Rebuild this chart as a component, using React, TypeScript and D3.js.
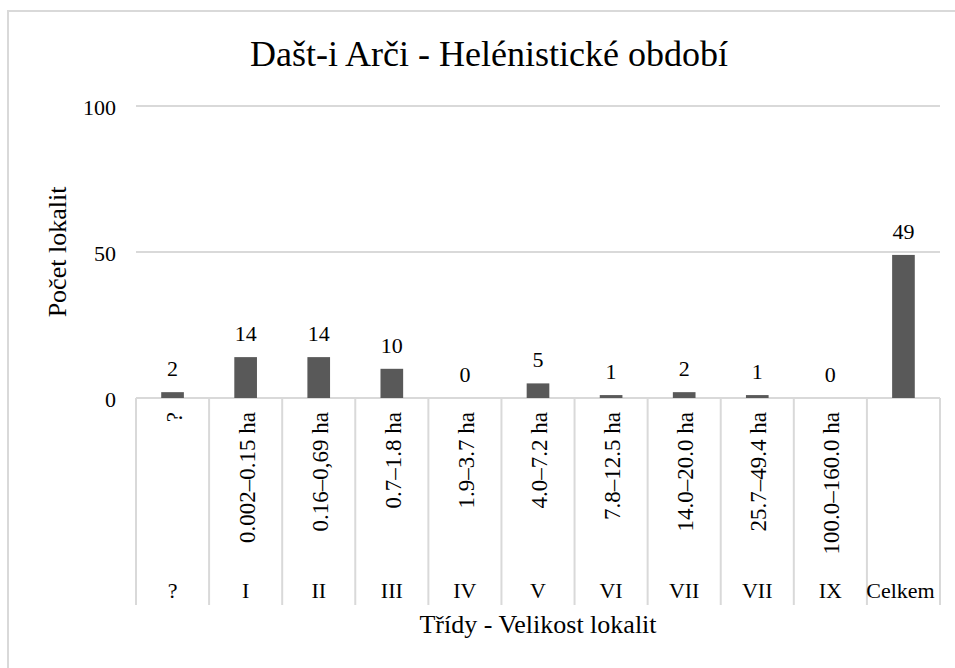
import React, { useEffect, useRef } from "react";
import * as d3 from "d3";

// classes (bottom level of the category axis) and size ranges (top level)
const classes = ["?", "I", "II", "III", "IV", "V", "VI", "VII", "VII", "IX", "Celkem"];
const sizeRanges = [
  "?",
  "0.002–0.15 ha",
  "0.16–0,69 ha",
  "0.7–1.8 ha",
  "1.9–3.7 ha",
  "4.0–7.2 ha",
  "7.8–12.5 ha",
  "14.0–20.0 ha",
  "25.7–49.4 ha",
  "100.0–160.0 ha",
  "",
];
const siteCounts = [2, 14, 14, 10, 0, 5, 1, 2, 1, 0, 49];
const yTicks = [0, 50, 100];

const W = 955;
const H = 668;
const FONT = "Liberation Serif, Tinos, Times New Roman, Nimbus Roman, DejaVu Serif, serif";

const App = () => {
  const svgRef = useRef<SVGSVGElement | null>(null);

  useEffect(() => {
    const svg = d3.select(svgRef.current);
    svg.selectAll("*").remove();

    const left = 136;
    const right = 940;
    const top = 106;
    const bottom = 398;
    const grid = "#d9d9d9";

    // outer chart border (right side is cut off in the picture)
    svg
      .append("rect")
      .attr("x", 8)
      .attr("y", 11)
      .attr("width", 980)
      .attr("height", 700)
      .attr("fill", "#fff")
      .attr("stroke", grid)
      .attr("stroke-width", 2);

    const x = d3
      .scaleBand<number>()
      .domain(d3.range(classes.length))
      .range([left, right])
      .padding(0);

    const y = d3.scaleLinear().domain([0, 100]).range([bottom, top]);

    // title
    svg
      .append("text")
      .attr("x", 489)
      .attr("y", 66)
      .attr("text-anchor", "middle")
      .attr("font-family", FONT)
      .attr("font-size", 36)
      .attr("fill", "#000")
      .text("Dašt-i Arči - Helénistické období");

    // gridlines + y tick labels
    svg
      .selectAll("line.grid")
      .data(yTicks)
      .enter()
      .append("line")
      .attr("class", "grid")
      .attr("x1", left)
      .attr("x2", right)
      .attr("y1", (d) => y(d))
      .attr("y2", (d) => y(d))
      .attr("stroke", grid)
      .attr("stroke-width", 2);

    svg
      .selectAll("text.ytick")
      .data(yTicks)
      .enter()
      .append("text")
      .attr("class", "ytick")
      .attr("x", 116)
      .attr("y", (d) => y(d) + 1)
      .attr("dy", "0.35em")
      .attr("text-anchor", "end")
      .attr("font-family", FONT)
      .attr("font-size", 22)
      .text((d) => d);

    // category separators
    const edges = d3.range(classes.length + 1).map((i) => left + i * x.bandwidth());
    svg
      .selectAll("line.sep")
      .data(edges)
      .enter()
      .append("line")
      .attr("class", "sep")
      .attr("x1", (d) => d)
      .attr("x2", (d) => d)
      .attr("y1", bottom)
      .attr("y2", 605)
      .attr("stroke", grid)
      .attr("stroke-width", 2);

    // bars
    const barW = x.bandwidth() * 0.31;
    const cx = (i: number) => (x(i) as number) + x.bandwidth() / 2;

    svg
      .selectAll("rect.bar")
      .data(siteCounts)
      .enter()
      .append("rect")
      .attr("class", "bar")
      .attr("x", (d, i) => cx(i) - barW / 2)
      .attr("y", (d) => y(d))
      .attr("width", barW)
      .attr("height", (d) => bottom - y(d))
      .attr("fill", "#595959");

    svg
      .selectAll("text.val")
      .data(siteCounts)
      .enter()
      .append("text")
      .attr("class", "val")
      .attr("x", (d, i) => cx(i))
      .attr("y", (d) => y(d) - 16)
      .attr("text-anchor", "middle")
      .attr("font-family", FONT)
      .attr("font-size", 22)
      .text((d) => d);

    // size range labels (rotated)
    svg
      .selectAll("text.range")
      .data(sizeRanges)
      .enter()
      .append("text")
      .attr("class", "range")
      .attr("transform", (d, i) => `translate(${cx(i) + 1}, 412) rotate(-90)`)
      .attr("dy", "0.35em")
      .attr("text-anchor", "end")
      .attr("font-family", FONT)
      .attr("font-size", 23)
      .text((d) => d);

    // class labels
    svg
      .selectAll("text.cls")
      .data(classes)
      .enter()
      .append("text")
      .attr("class", "cls")
      .attr("x", (d, i) => cx(i) - (i === classes.length - 1 ? 3 : 0))
      .attr("y", 598)
      .attr("text-anchor", "middle")
      .attr("font-family", FONT)
      .attr("font-size", 22)
      .text((d) => d);

    // axis titles
    svg
      .append("text")
      .attr("x", (left + right) / 2)
      .attr("y", 633)
      .attr("text-anchor", "middle")
      .attr("font-family", FONT)
      .attr("font-size", 26)
      .text("Třídy - Velikost lokalit");

    svg
      .append("text")
      .attr("transform", `translate(57, 252) rotate(-90)`)
      .attr("dy", "0.35em")
      .attr("text-anchor", "middle")
      .attr("font-family", FONT)
      .attr("font-size", 26)
      .text("Počet lokalit");
  }, []);

  return (
    <svg
      ref={svgRef}
      width={W}
      height={H}
      style={{ position: "absolute", left: 0, top: 0, background: "#fff" }}
    ></svg>
  );
};

export default App;
